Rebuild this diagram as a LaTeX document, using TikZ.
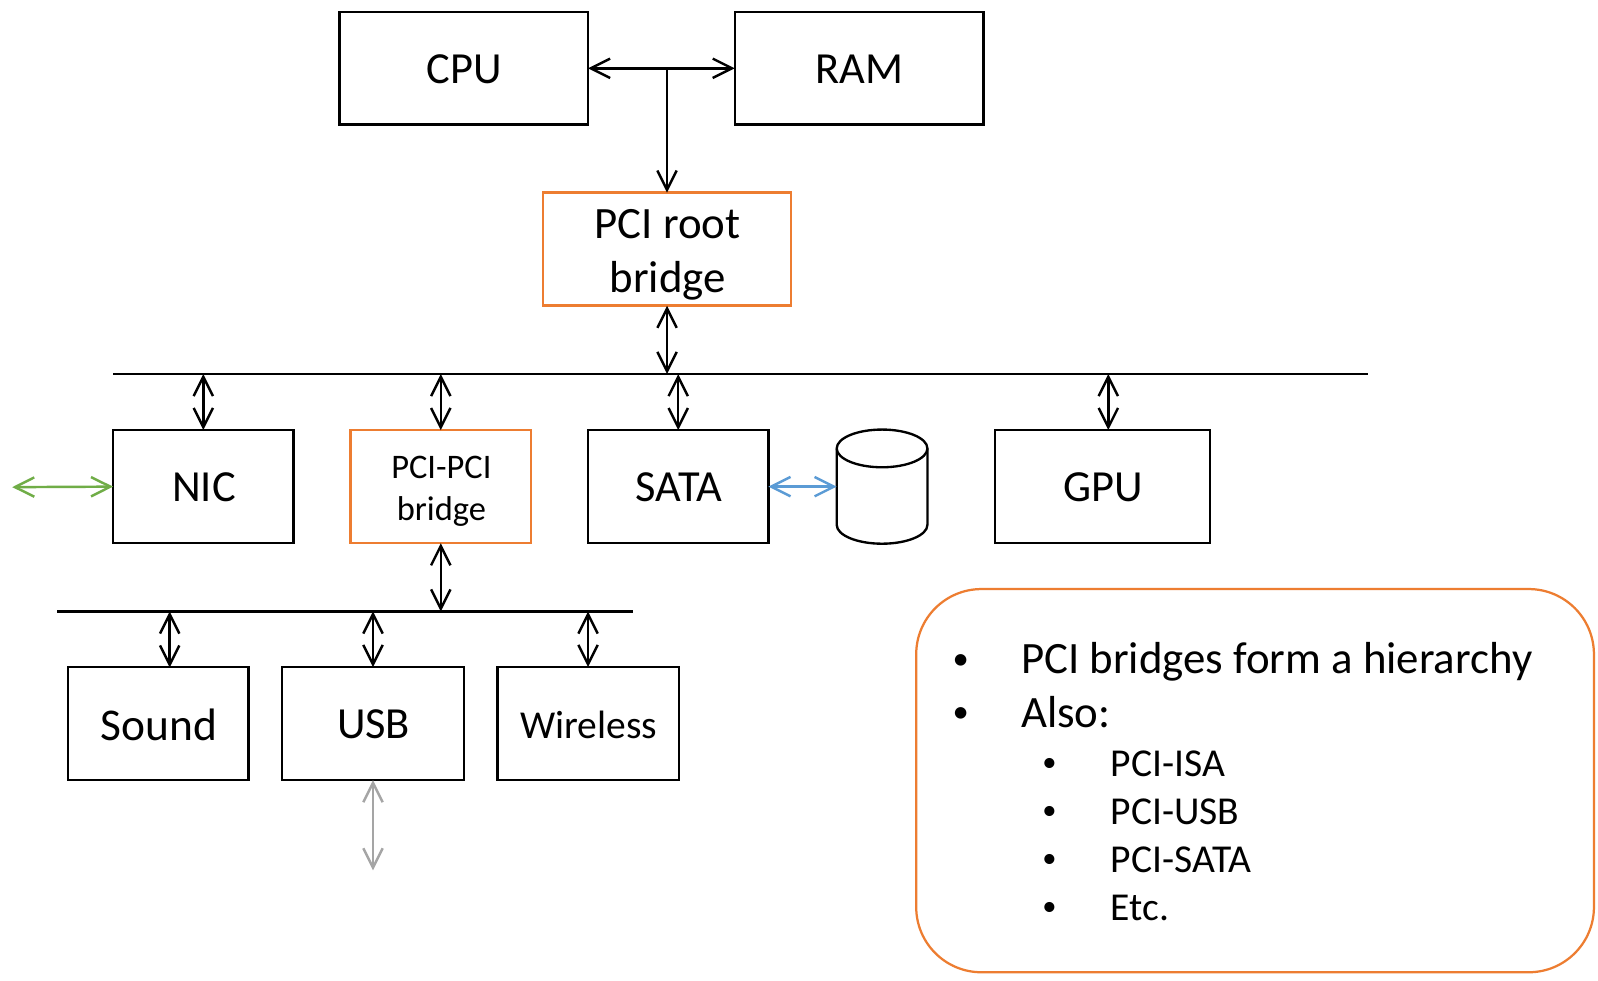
\documentclass[tikz,border=0pt]{standalone}
\usepackage{fontspec}
\setmainfont{Carlito}
\usetikzlibrary{arrows.meta}
\definecolor{orng}{HTML}{ED7D31}
\definecolor{grn}{HTML}{70AD47}
\definecolor{blu}{HTML}{5B9BD5}
\definecolor{gry}{HTML}{A5A5A5}
\tikzset{
  x=0.5pt,y=-0.5pt,
  boxbase/.style={draw,line width=1.15pt,outer sep=0pt,inner sep=0pt},
  blackbox/.style={boxbase,draw=black},
  bridgebox/.style={boxbase,draw=orng,line width=1.25pt},
  lbl/.style={inner sep=0pt,outer sep=0pt,align=center,xshift=0.3pt,yshift=-0.5pt,font=\fontsize{21.8}{26}\selectfont},
  dbl/.style={line width=1.2pt,{Straight Barb[length=9.5pt,width=9.5pt,line width=1.2pt]}-{Straight Barb[length=9.5pt,width=9.5pt,line width=1.2pt]}},
  sgl/.style={line width=1.2pt,-{Straight Barb[length=9.5pt,width=9.5pt,line width=1.2pt]}},
  busline/.style={line width=1.1pt},
  big/.style={anchor=base west,inner sep=0pt,outer sep=0pt,font=\fontsize{22}{26}\selectfont},
  small/.style={anchor=base west,inner sep=0pt,outer sep=0pt,font=\fontsize{19.4}{23}\selectfont},
  bigdot/.style={anchor=base west,inner sep=0pt,outer sep=0pt,font=\fontsize{16}{20}\selectfont},
  smalldot/.style={anchor=base west,inner sep=0pt,outer sep=0pt,font=\fontsize{14}{17}\selectfont},
}
\newcommand{\bx}[7]{%
  \node[#1,minimum width=#4*0.5pt,minimum height=#5*0.5pt] (#2) at (#3) {};
  \node[lbl,#7] (#2-t) at (#2.center) {#6};}
\begin{document}
\begin{tikzpicture}
\useasboundingbox[fill=white] (0,0) rectangle (1568,962.5);
% boxes
\bx{blackbox}{cpu}{455,67}{244}{110}{CPU}{}
\bx{blackbox}{ram}{843,67}{244}{110}{RAM}{}
\bx{bridgebox}{root}{654.5,244.5}{243}{111}{PCI root\\bridge}{font=\fontsize{22}{26.5}\selectfont,yshift=-2.5pt}
\bx{blackbox}{nic}{199.5,477.5}{177}{111}{NIC}{}
\bx{bridgebox}{ppb}{432.5,477.5}{177}{111}{PCI-PCI\\bridge}{font=\fontsize{16.9}{20.5}\selectfont,yshift=-1.7pt}
\bx{blackbox}{sata}{665.5,477.5}{177}{111}{SATA}{}
\bx{blackbox}{gpu}{1081.5,477.5}{211}{111}{GPU}{}
\bx{blackbox}{sound}{155.5,710}{177}{111}{Sound}{font=\fontsize{22.3}{26}\selectfont}
\bx{blackbox}{usb}{366,710}{178}{111}{USB}{}
\bx{blackbox}{wless}{577,710}{178}{111}{Wireless}{font=\fontsize{19.4}{23}\selectfont}
% disk
\node[minimum width=44.5pt,minimum height=55.5pt,inner sep=0pt,outer sep=0pt] (disk) at (865.5,477.5) {};
\draw[line width=1.15pt,fill=white] (821,440) arc[start angle=180,end angle=0,x radius=44.5,y radius=-18.5]
  -- (910,515) arc[start angle=0,end angle=-180,x radius=44.5,y radius=-18.5] -- cycle;
\draw[line width=1.15pt] (821,440) arc[start angle=180,end angle=360,x radius=44.5,y radius=-18.5];
% buses
\coordinate (busL) at (111,367);
\coordinate (busR) at (1342,367);
\coordinate (sbusL) at (56,600);
\coordinate (sbusR) at (621,600);
\draw[busline] (busL) -- (busR);
\draw[busline] (sbusL) -- (sbusR);
% connectors
\draw[dbl] (cpu.east) -- (ram.west);
\coordinate (junc) at (654.5,67);
\draw[sgl] (junc) -- (root.north);
\draw[dbl] (root.south) -- (root.south |- busL);
\draw[dbl] (nic.north |- busL) -- (nic.north);
\draw[dbl] (ppb.north |- busL) -- (ppb.north);
\draw[dbl] (sata.north |- busL) -- (sata.north);
\coordinate (gpuTop) at (1087.5,422);
\draw[dbl] (gpuTop |- busL) -- (gpuTop);
\draw[dbl] (ppb.south) -- (ppb.south |- sbusL);
\coordinate (soundTop) at (166.5,655);
\draw[dbl] (soundTop |- sbusL) -- (soundTop);
\draw[dbl] (usb.north |- sbusL) -- (usb.north);
\draw[dbl] (wless.north |- sbusL) -- (wless.north);
\coordinate (netEnd) at (12,478);
\draw[dbl,draw=grn] (netEnd) -- (nic.west);
\draw[dbl,draw=blu] (sata.east) -- (disk.west);
\coordinate (usbEnd) at (366,854);
\draw[dbl,draw=gry] (usb.south) -- (usbEnd);
% callout
\draw[draw=orng,line width=1.1pt,rounded corners=32pt] (899,578) rectangle (1564,954);
\node[bigdot] (b1) at (934.8,656.6) {•};
\node[big] (t1) at (1002,661) {PCI bridges form a hierarchy};
\node[bigdot] (b2) at (934.8,708.6) {•};
\node[big] (t2) at (1002,714) {Also:};
\node[smalldot] (b3) at (1022.7,757.4) {•};
\node[small] (t3) at (1090,762) {PCI-ISA};
\node[smalldot] (b4) at (1022.7,804.4) {•};
\node[small] (t4) at (1090,809) {PCI-USB};
\node[smalldot] (b5) at (1022.7,851.4) {•};
\node[small] (t5) at (1090,856) {PCI-SATA};
\node[smalldot] (b6) at (1022.7,898.4) {•};
\node[small] (t6) at (1090,903) {Etc.};
\end{tikzpicture}
\end{document}
